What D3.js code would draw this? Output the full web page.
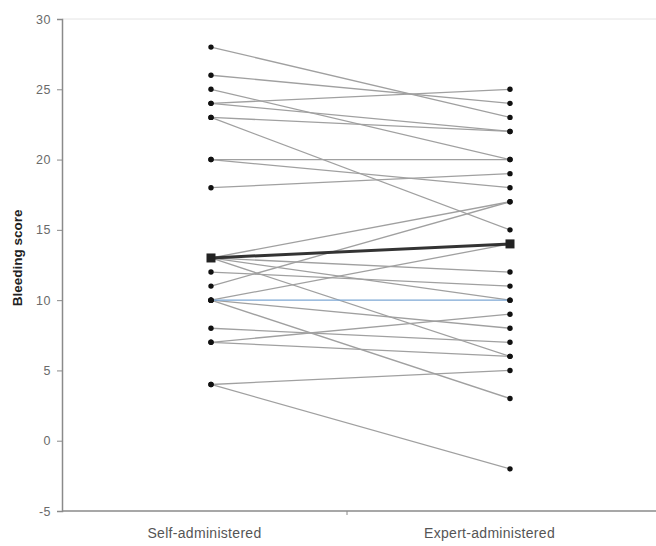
<!DOCTYPE html>
<html>
<head>
<meta charset="utf-8">
<script src="https://cdn.jsdelivr.net/npm/d3@7"></script>
<style>
  body { margin: 0; background: #fff; }
  svg { display: block; font-family: "Liberation Sans", Arial, sans-serif; }
</style>
</head>
<body>
<svg id="chart"></svg>
<script>
// categories on the x axis
const categories = ["Self-administered", "Expert-administered"];

// paired scores, one entry per patient
const selfScores   = [28, 26, 25, 24, 24, 23, 23, 20, 20, 18, 13, 13, 13, 13, 12, 11, 10, 10, 10, 8, 7, 7, 4, 4];
const expertScores = [23, 24, 20, 25, 22, 22, 15, 20, 18, 19, 17, 12, 10, 6, 11, 17, 14, 8, 3, 7, 9, 6, 5, -2];

// summary lines
const meanScores   = [13, 14];
const medianScores = [10, 10];

const yTicks = [-5, 0, 5, 10, 15, 20, 25, 30];

const width = 656, height = 546;
const margin = { top: 19, left: 62, bottom: 35 };

const svg = d3.select('#chart')
    .attr('width', width)
    .attr('height', height);

// scales
const yScale = d3.scaleLinear()
    .domain([-5, 30])
    .range([height - margin.bottom, margin.top]);

// band scale for the category axis, point scale for the markers
const xBand = d3.scaleBand()
    .domain(categories)
    .range([margin.left, 632]);

const xPoint = d3.scalePoint()
    .domain(categories)
    .range([211, 510]);

// plot area border (top)
svg.append('line')
    .attr('x1', margin.left).attr('x2', width)
    .attr('y1', yScale(30)).attr('y2', yScale(30))
    .attr('stroke', '#e4e4e4')
    .attr('stroke-width', 1);

// y axis
const yAxis = svg.append('g')
    .attr('transform', `translate(${margin.left},0)`)
    .call(d3.axisLeft(yScale).tickValues(yTicks).tickFormat(d => String(d)).tickSize(5).tickPadding(6));
yAxis.select('.domain').attr('stroke', '#8a8a8a').attr('stroke-width', 1.5);
yAxis.selectAll('.tick line').attr('stroke', '#8a8a8a');
yAxis.selectAll('.tick text')
    .attr('fill', '#6a6a6a')
    .style('font-size', '12.5px')
    .style('letter-spacing', '0.5px');

// x axis
const xAxis = svg.append('g')
    .attr('transform', `translate(0,${yScale(-5)})`)
    .call(d3.axisBottom(xBand).tickSize(0).tickPadding(17));
xAxis.select('.domain').remove();
xAxis.selectAll('.tick text')
    .attr('fill', '#555')
    .style('font-size', '14px')
    .style('letter-spacing', '0.3px');

svg.append('line')
    .attr('x1', margin.left).attr('x2', width)
    .attr('y1', yScale(-5)).attr('y2', yScale(-5))
    .attr('stroke', '#8a8a8a')
    .attr('stroke-width', 1.5);

// tick between the two categories
svg.append('line')
    .attr('x1', xBand(categories[1])).attr('x2', xBand(categories[1]))
    .attr('y1', yScale(-5)).attr('y2', yScale(-5) + 4)
    .attr('stroke', '#8a8a8a');

// y label
svg.append('text')
    .attr('transform', `translate(22,${yScale(13)}) rotate(-90)`)
    .attr('text-anchor', 'middle')
    .style('font-size', '13.5px')
    .style('font-weight', 'bold')
    .attr('fill', '#222')
    .text('Bleeding score');

// patient lines
const pairs = selfScores.map((s, i) => [s, expertScores[i]]);
const line = d3.line()
    .x((d, i) => xPoint(categories[i]))
    .y(d => yScale(d));

svg.append('g')
    .selectAll('path')
    .data(pairs)
    .join('path')
        .attr('d', line)
        .attr('fill', 'none')
        .attr('stroke', '#a0a0a0')
        .attr('stroke-width', 1.3);

// median line
svg.append('path')
    .attr('d', line(medianScores))
    .attr('fill', 'none')
    .attr('stroke', '#7da7d4')
    .attr('stroke-width', 1.3);

// mean line
svg.append('path')
    .attr('d', line(meanScores))
    .attr('fill', 'none')
    .attr('stroke', '#333')
    .attr('stroke-width', 3);

// markers
const dots = [];
pairs.forEach(p => p.forEach((v, i) => dots.push({ cat: categories[i], v: v })));
medianScores.forEach((v, i) => dots.push({ cat: categories[i], v: v }));

svg.append('g')
    .selectAll('circle')
    .data(dots)
    .join('circle')
        .attr('cx', d => xPoint(d.cat))
        .attr('cy', d => yScale(d.v))
        .attr('r', 2.7)
        .attr('fill', '#111');

svg.append('g')
    .selectAll('rect')
    .data(meanScores)
    .join('rect')
        .attr('x', (d, i) => xPoint(categories[i]) - 4.5)
        .attr('y', d => yScale(d) - 4.5)
        .attr('width', 9)
        .attr('height', 9)
        .attr('fill', '#222');
</script>
</body>
</html>
